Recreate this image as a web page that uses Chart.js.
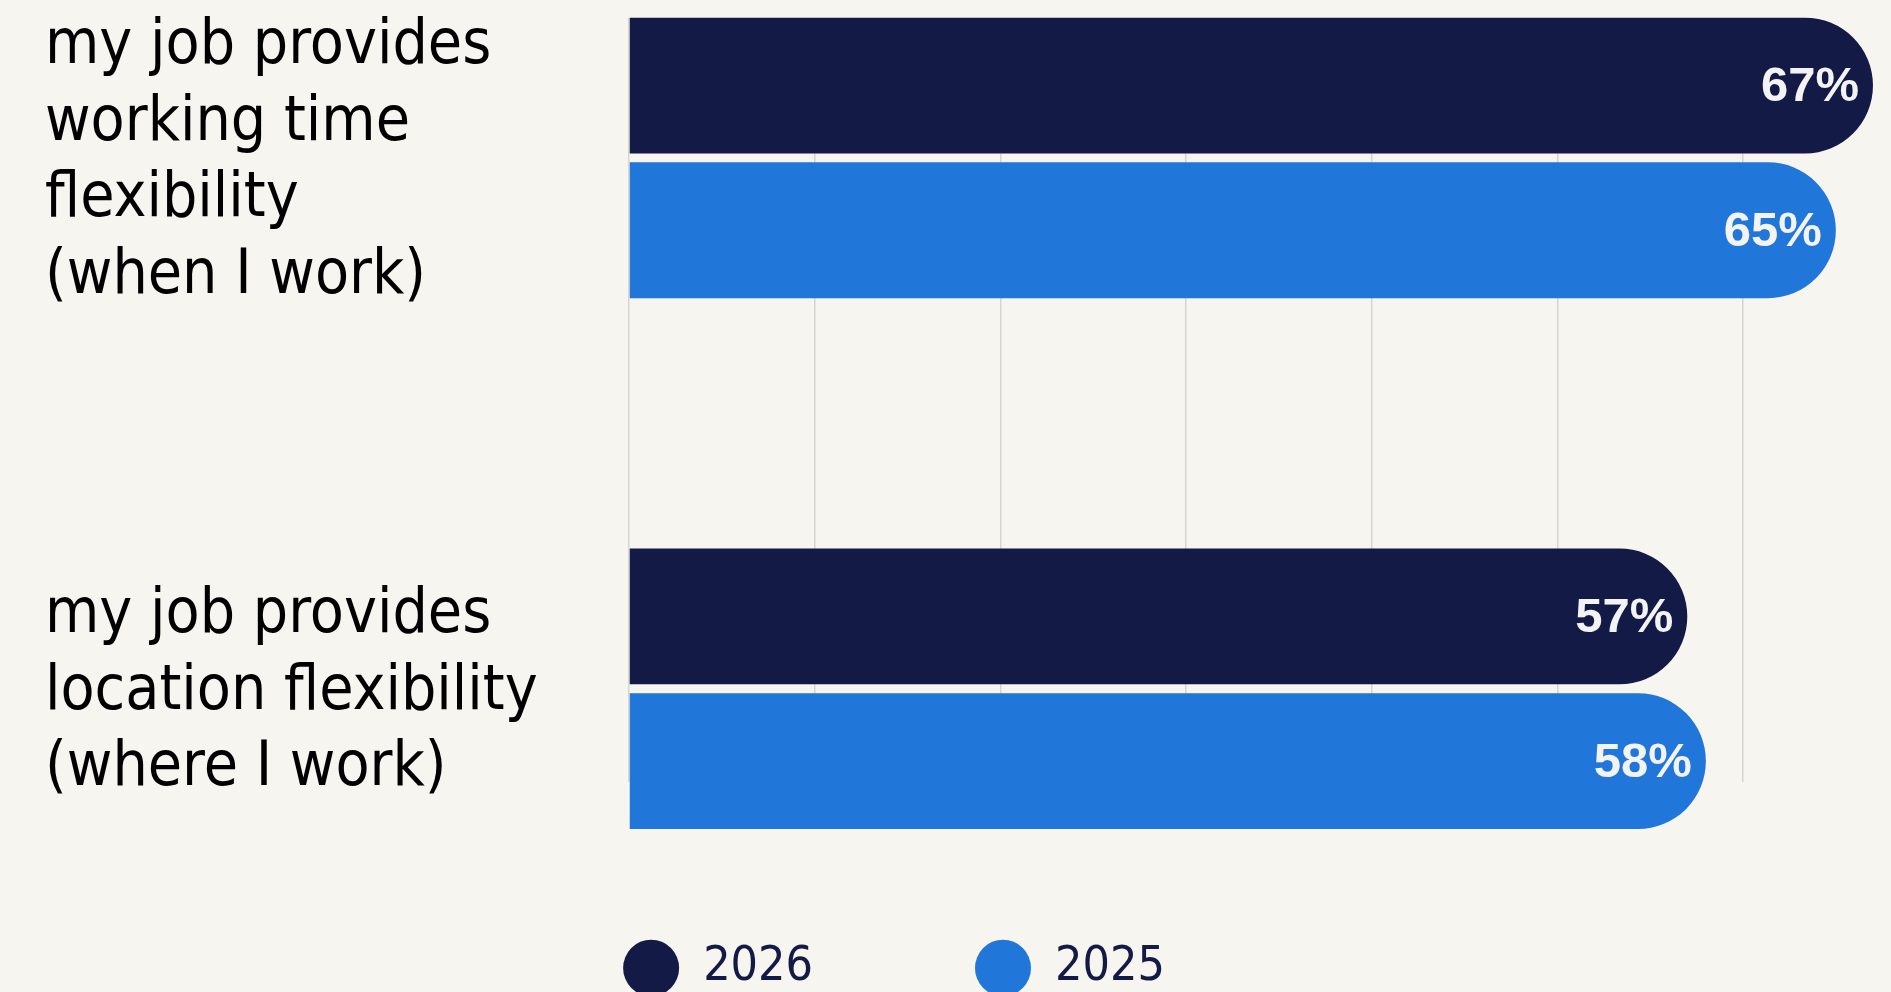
<!DOCTYPE html>
<html><head><meta charset="utf-8">
<script src="https://cdn.jsdelivr.net/npm/chart.js@4/dist/chart.umd.min.js"></script>
<style>
html,body{margin:0;padding:0;background:#f6f5f0;overflow:hidden;}
#wrap{position:absolute;left:0;top:0;width:1891px;height:1002px;}
</style></head><body>
<div id="wrap"><canvas id="c" width="1891" height="1002"></canvas></div>
<script>
// ---- data ----
const categories = [
  ['my job provides', 'working time', 'flexibility', '(when I work)'],
  ['my job provides', 'location flexibility', '(where I work)']
];
const seriesNames = ['2026', '2025'];
const values2026 = [67, 57];
const values2025 = [65, 58];
const xTicks = [0, 10, 20, 30, 40, 50, 60];

// ---- styling ----
const NAVY = '#121a45';
const BLUE = '#2176d9';
const LABEL_FONT = "'DejaVu Sans Condensed', 'DejaVu Sans', sans-serif";

const toPoints = vals => vals.map((v, i) => ({ x: v, y: i }));

const valueLabels = {
  id: 'valueLabels',
  afterDatasetsDraw(chart) {
    const ctx = chart.ctx;
    ctx.save();
    ctx.font = 'bold 49px "Liberation Sans", Arial, sans-serif';
    ctx.fillStyle = '#f3f3f3';
    ctx.textAlign = 'right';
    ctx.textBaseline = 'middle';
    chart.data.datasets.forEach((ds, di) => {
      const meta = chart.getDatasetMeta(di);
      meta.data.forEach((bar, i) => {
        ctx.fillText(ds.data[i].x + '%', bar.x - 14, bar.y + 2);
      });
    });
    ctx.restore();
  }
};

new Chart(document.getElementById('c'), {
  type: 'bar',
  data: {
    datasets: [
      { label: seriesNames[0], data: toPoints(values2026), backgroundColor: NAVY, borderWidth: 0, borderRadius: 70, borderSkipped: 'start', clip: false },
      { label: seriesNames[1], data: toPoints(values2025), backgroundColor: BLUE, borderWidth: 0, borderRadius: 70, borderSkipped: 'start', clip: false }
    ]
  },
  options: {
    indexAxis: 'y',
    responsive: false,
    devicePixelRatio: 1,
    animation: false,
    layout: { padding: { left: 45, right: 148, top: 18, bottom: 0 } },
    categoryPercentage: 0.545,
    barPercentage: 0.939,
    scales: {
      x: {
        type: 'linear',
        min: xTicks[0],
        max: xTicks[xTicks.length - 1],
        afterBuildTicks: s => { s.ticks = xTicks.map(v => ({ value: v })); },
        afterFit: s => { s.height = 0; s.paddingLeft = 0; s.paddingRight = 0; },
        ticks: { display: false },
        grid: { color: '#d6d5d1', lineWidth: 1.5, drawTicks: false },
        border: { display: false }
      },
      y: {
        type: 'linear',
        reverse: true,
        offset: false,
        bounds: 'data',
        min: -0.2635,
        max: 1.1756,
        afterBuildTicks: s => { s.ticks = categories.map((_, i) => ({ value: i })); },
        afterFit: s => { s.width = 584; s.paddingTop = 0; s.paddingBottom = 0; },
        ticks: {
          autoSkip: false,
          crossAlign: 'far',
          labelOffset: 4,
          color: '#000000',
          font: { family: LABEL_FONT, size: 62, lineHeight: 1.234 },
          callback: v => categories[v]
        },
        grid: { display: false, offset: false },
        border: { display: false }
      }
    },
    plugins: {
      legend: {
        position: 'bottom',
        labels: {
          usePointStyle: true,
          pointStyle: 'circle',
          pointStyleWidth: 56,
          boxHeight: 40,
          padding: 162,
          color: NAVY,
          font: { family: LABEL_FONT, size: 48 }
        }
      },
      tooltip: { enabled: false }
    }
  },
  plugins: [valueLabels]
});
</script>
</body></html>
